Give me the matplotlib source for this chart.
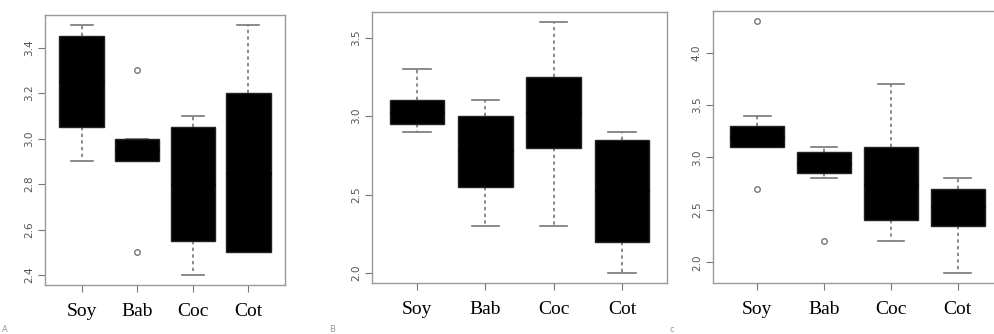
import numpy as np
import matplotlib.pyplot as plt

groups = ["Soy", "Bab", "Coc", "Cot"]

# per panel: lower whisker, q1, q3, upper whisker, outliers
a_whislo = [2.9, 2.9, 2.4, 2.5]
a_q1 = [3.05, 2.9, 2.55, 2.5]
a_q3 = [3.45, 3.0, 3.05, 3.2]
a_whishi = [3.5, 3.0, 3.1, 3.5]
a_fliers = [[], [3.3, 2.5], [], []]

b_whislo = [2.9, 2.3, 2.3, 2.0]
b_q1 = [2.95, 2.55, 2.8, 2.2]
b_q3 = [3.1, 3.0, 3.25, 2.85]
b_whishi = [3.3, 3.1, 3.6, 2.9]
b_fliers = [[], [], [], []]

c_whislo = [3.1, 2.8, 2.2, 1.9]
c_q1 = [3.1, 2.85, 2.4, 2.35]
c_q3 = [3.3, 3.05, 3.1, 2.7]
c_whishi = [3.4, 3.1, 3.7, 2.8]
c_fliers = [[4.3, 2.7], [2.2], [], []]

panels = [
    (a_whislo, a_q1, a_q3, a_whishi, a_fliers, np.arange(2.4, 3.41, 0.2), "A"),
    (b_whislo, b_q1, b_q3, b_whishi, b_fliers, np.arange(2.0, 3.51, 0.5), "B"),
    (c_whislo, c_q1, c_q3, c_whishi, c_fliers, np.arange(2.0, 4.01, 0.5), "c"),
]

W, H = 995, 334
rects = [(45, 285, 15, 285), (372, 667, 12, 283), (713, 1002, 11, 283)]

fig = plt.figure(figsize=(W / 100, H / 100), dpi=100)
fig.patch.set_facecolor("white")

grey = "#777777"

for (lo, q1, q3, hi, fl, yt, tag), (x0, x1, y0, y1) in zip(panels, rects):
    ax = fig.add_axes([x0 / W, 1 - y1 / H, (x1 - x0) / W, (y1 - y0) / H])
    stats = []
    for i, g in enumerate(groups):
        stats.append(dict(label=g, whislo=lo[i], q1=q1[i], med=(q1[i] + q3[i]) / 2,
                          q3=q3[i], whishi=hi[i], fliers=fl[i]))
    ax.bxp(stats, positions=range(1, 5), widths=0.8, patch_artist=True,
           boxprops=dict(facecolor="black", edgecolor="#222222", linewidth=1, zorder=4),
           medianprops=dict(color="black", linewidth=2, zorder=5),
           whiskerprops=dict(color=grey, linestyle=(0, (2, 2)), linewidth=1.2, zorder=2),
           capprops=dict(color=grey, linewidth=1.2, zorder=2),
           flierprops=dict(marker="o", markerfacecolor="none", markeredgecolor=grey,
                           markersize=4, markeredgewidth=1))
    vals = lo + hi + [v for f in fl for v in f]
    rng = max(vals) - min(vals)
    ax.set_ylim(min(vals) - 0.04 * rng, max(vals) + 0.04 * rng)
    ax.set_xlim(0.34, 4.66)
    ax.set_yticks(yt)
    ax.set_yticklabels([f"{v:.1f}" for v in yt], rotation=90, va="center",
                       fontsize=7.5, color="#555555")
    ax.set_xticks(range(1, 5))
    ax.set_xticklabels(groups, fontsize=14, family="Liberation Serif", color="black")
    ax.tick_params(axis="x", length=5, color=grey, pad=8)
    ax.tick_params(axis="y", length=5, color=grey, pad=3)
    for s in ax.spines.values():
        s.set_color("#999999")
        s.set_linewidth(1)
    fig.text((x0 - 44) / W + 0.001, 0.005, tag, fontsize=6, color="#999999")

fig.savefig("out.png", dpi=100)
